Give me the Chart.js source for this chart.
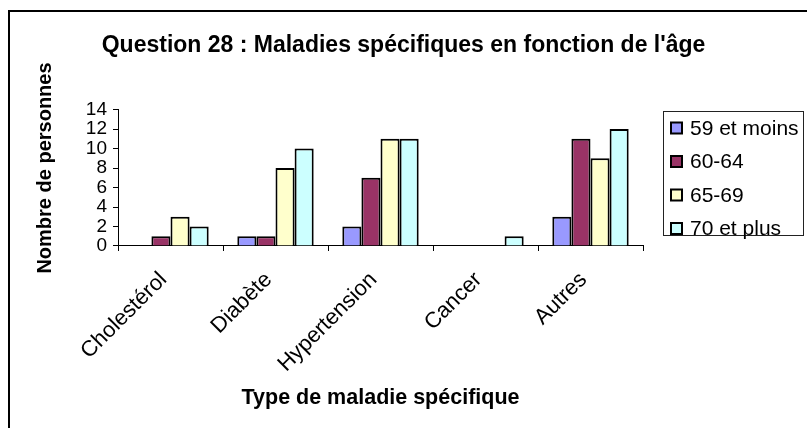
<!DOCTYPE html>
<html>
<head>
<meta charset="utf-8">
<title>Question 28 : Maladies spécifiques en fonction de l'âge</title>
<script src="https://cdn.jsdelivr.net/npm/chart.js@4.4.0/dist/chart.umd.min.js"></script>
<style>
    html, body { margin: 0; padding: 0; background: #fff; }
    #wrap { position: relative; width: 807px; height: 428px; overflow: hidden; }
    canvas { display: block; }
</style>
</head>
<body>
<div id="wrap"><canvas id="maladiesChart" width="807" height="428"></canvas></div>
<script>
// Data
const categories = ['Cholestérol', 'Diabète', 'Hypertension', 'Cancer', 'Autres'];
const ageGroups = ['59 et moins', '60-64', '65-69', '70 et plus'];
const moins59 = [0, 1, 2, 0, 3];
const age60a64 = [1, 1, 7, 0, 11];
const age65a69 = [3, 8, 11, 0, 9];
const plus70 = [2, 10, 11, 1, 12];
const yMax = 14;
const yStep = 2;
const yTitle = 'Nombre de personnes';

const colors = ['#9999FF', '#993366', '#FFFFCC', '#CCFFFF'];
const FONT = '"Liberation Sans", Arial, sans-serif';

// Outer frame of the chart (only top and left edges are in view)
const chartFrame = {
    id: 'chartFrame',
    beforeDraw(chart) {
        const ctx = chart.ctx;
        ctx.save();
        ctx.fillStyle = '#fff';
        ctx.fillRect(0, 0, chart.width, chart.height);
        ctx.strokeStyle = '#000';
        ctx.lineWidth = 2;
        ctx.strokeRect(9, 11, 1000, 1000);
        ctx.restore();
    }
};

// Y axis title, centred a bit above the plot middle like Excel does
const yAxisTitle = {
    id: 'yAxisTitle',
    afterDraw(chart) {
        const ctx = chart.ctx;
        ctx.save();
        ctx.translate(45, 168);
        ctx.rotate(-Math.PI / 2);
        ctx.font = 'bold 20px ' + FONT;
        ctx.fillStyle = '#000';
        ctx.textAlign = 'center';
        ctx.textBaseline = 'middle';
        ctx.fillText(yTitle, 0, 0);
        ctx.restore();
    }
};

// Excel-style boxed legend on the right
const boxedLegend = {
    id: 'boxedLegend',
    afterDraw(chart) {
        const ctx = chart.ctx;
        const left = 663, top = 111, width = 140, height = 124;
        ctx.save();
        ctx.strokeStyle = '#222';
        ctx.lineWidth = 1;
        ctx.strokeRect(left + 0.5, top + 0.5, width, height);
        ctx.font = '21px ' + FONT;
        ctx.textBaseline = 'middle';
        ctx.textAlign = 'left';
        chart.data.datasets.forEach((ds, i) => {
            const y = top + 17 + i * 33.5;
            ctx.fillStyle = ds.backgroundColor;
            ctx.fillRect(left + 8, y - 5.5, 11, 11);
            ctx.strokeStyle = '#000';
            ctx.lineWidth = 2;
            ctx.strokeRect(left + 8, y - 5.5, 11, 11);
            ctx.fillStyle = '#000';
            ctx.fillText(ds.label, left + 27, y + 1);
        });
        ctx.restore();
    }
};

const series = [moins59, age60a64, age65a69, plus70];

new Chart(document.getElementById('maladiesChart'), {
    type: 'bar',
    data: {
        labels: categories,
        datasets: ageGroups.map((label, i) => ({
            label: label,
            data: series[i],
            backgroundColor: colors[i],
            borderColor: '#000',
            borderWidth: 2,
            barPercentage: 1,
            categoryPercentage: 4 / 5.5
        }))
    },
    options: {
        responsive: false,
        animation: false,
        layout: {
            padding: { top: 32, left: 0, right: 0, bottom: 0 }
        },
        plugins: {
            legend: { display: false },
            tooltip: { enabled: false },
            title: {
                display: true,
                text: "Question 28 : Maladies spécifiques en fonction de l'âge",
                color: '#000',
                font: { family: FONT, size: 23, weight: 'bold' },
                padding: { top: 0, bottom: 50 }
            }
        },
        scales: {
            x: {
                grid: { display: true, drawOnChartArea: false, tickLength: 5, color: '#000' },
                border: { color: '#000', width: 1 },
                ticks: {
                    color: '#000',
                    font: { family: FONT, size: 22 },
                    minRotation: 45,
                    maxRotation: 45,
                    labelOffset: -7,
                    padding: 16
                },
                title: {
                    display: true,
                    text: 'Type de maladie spécifique',
                    color: '#000',
                    font: { family: FONT, size: 21.5, weight: 'bold' },
                    padding: { top: 0, bottom: 17 }
                },
                afterFit(scale) { scale.height = 182; }
            },
            y: {
                min: 0,
                max: yMax,
                grid: { display: true, drawOnChartArea: false, tickLength: 5, color: '#000' },
                border: { color: '#000', width: 1 },
                ticks: {
                    stepSize: yStep,
                    autoSkip: false,
                    color: '#000',
                    font: { family: FONT, size: 19 },
                    padding: 6
                },
                afterFit(scale) { scale.width = 118; }
            },
            // empty right-hand box that leaves room for the legend
            legendSpace: {
                type: 'linear',
                position: 'right',
                display: true,
                grid: { display: false },
                border: { display: false },
                ticks: { display: false },
                afterFit(scale) { scale.width = 164; }
            }
        }
    },
    plugins: [chartFrame, yAxisTitle, boxedLegend]
});
</script>
</body>
</html>
